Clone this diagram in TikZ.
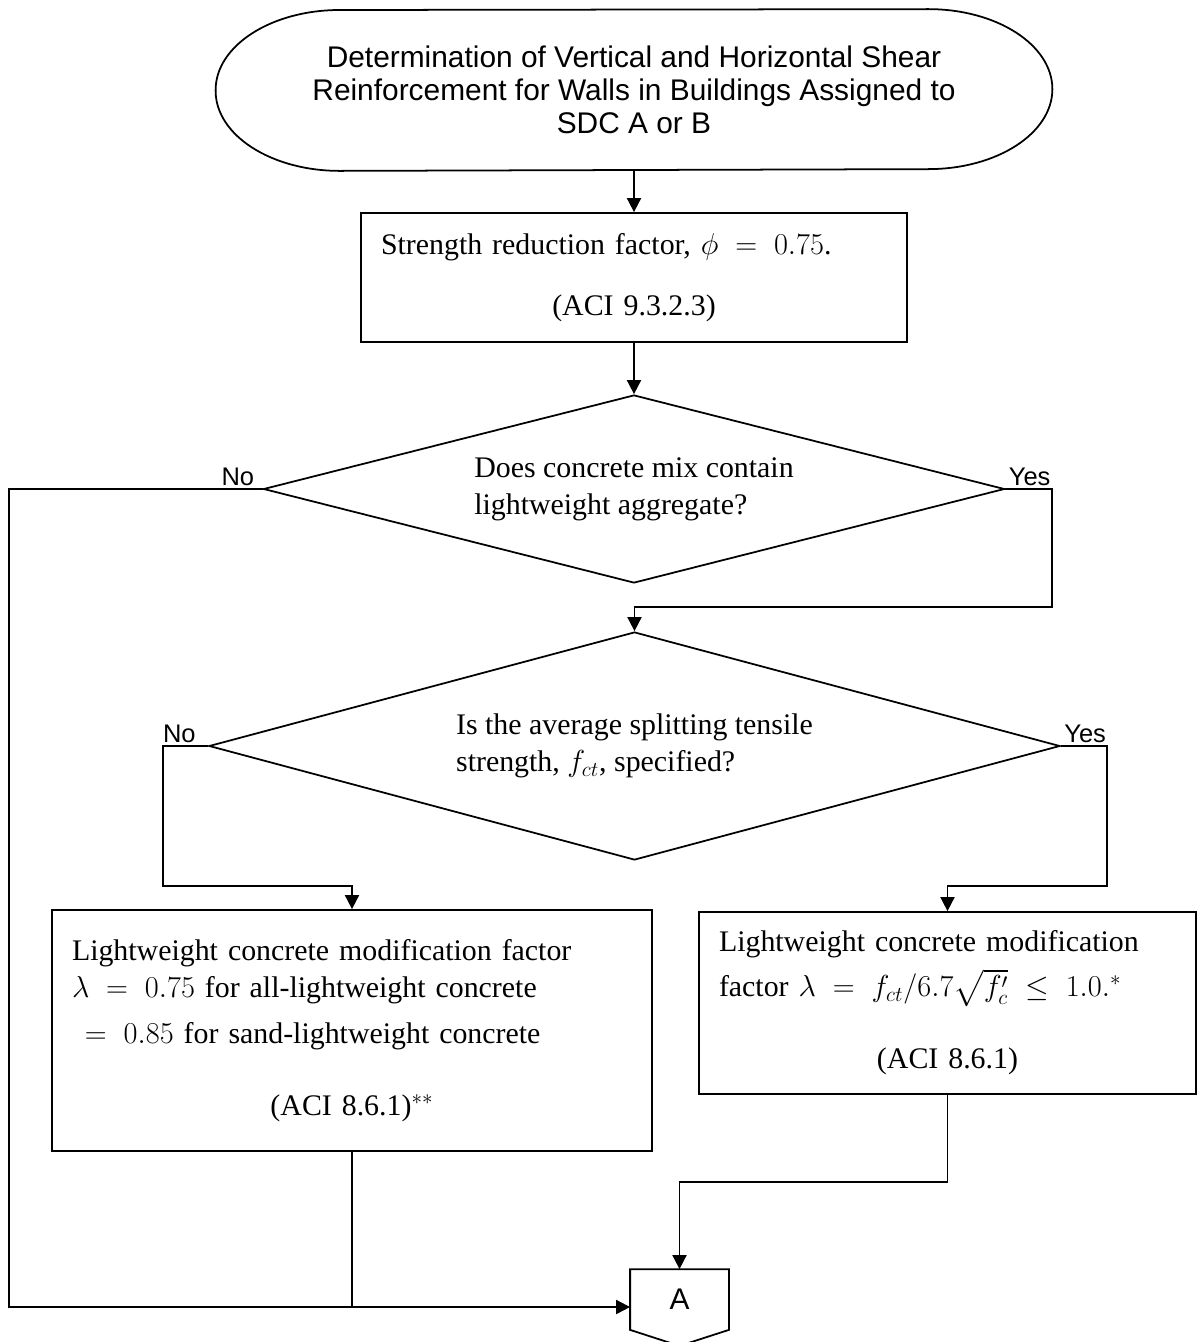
\documentclass[tikz,border=0pt]{standalone}
\usepackage{amsmath}
\usepackage{fontspec}
\setmainfont{Liberation Serif}
\setsansfont{Liberation Sans}
\usetikzlibrary{arrows.meta,shapes.geometric}

\begin{document}
\begin{tikzpicture}[>={Triangle[length=8pt,width=8pt]},line width=1pt,
  term/.style={align=center,minimum width=16.7cm,minimum height=3.2cm,inner sep=0pt,font=\sffamily\fontsize{17}{18.8}\selectfont},
  stepbox/.style={draw,align=left,inner xsep=0.4cm,inner ysep=0pt,font=\fontsize{17}{21}\selectfont},
  decide/.style={diamond,draw,align=left,inner sep=0pt,font=\fontsize{17}{21}\selectfont},
  ans/.style={font=\sffamily\fontsize{14.5}{17}\selectfont,inner sep=1.5pt},
  offpage/.style={minimum width=1.94cm,minimum height=1.18cm,inner sep=0pt,font=\sffamily\fontsize{17}{20}\selectfont}]
\useasboundingbox (0,0) rectangle (23.94,-26.84);
\node[term] (start) at (12.68,-1.8) {Determination of Vertical and Horizontal Shear\\Reinforcement for Walls in Buildings Assigned to\\SDC A or B};
\draw[line join=round] (start.west) arc[start angle=180,end angle=90,x radius=2.48cm,y radius=1.6cm]
  -- ([xshift=-2.48cm]start.north east)
  arc[start angle=90,end angle=-90,x radius=2.48cm,y radius=1.6cm]
  -- ([xshift=2.48cm]start.south west)
  arc[start angle=270,end angle=180,x radius=2.48cm,y radius=1.6cm] -- cycle;
\node[stepbox,text width=10.12cm,minimum height=2.58cm] (phi) at (12.68,-5.55) {\rule{0pt}{0.3cm}Strength reduction factor, $\phi\;=\;0.75$.\\[0.48cm]\makebox[\linewidth]{(ACI 9.3.2.3)}};
\node[decide,aspect=3.94,minimum width=14.82cm,minimum height=3.76cm] (mix) at (12.68,-9.78) {Does concrete mix contain\\lightweight aggregate?};
\node[decide,aspect=3.73,minimum width=17.02cm,minimum height=4.56cm] (fct) at (12.69,-14.92) {Is the average splitting tensile\\strength, $f_{ct}$, specified?};
\node[stepbox,text width=11.2cm,minimum height=4.82cm] (lwall) at (7.04,-20.61) {Lightweight concrete modification factor\\$\lambda\;=\;0.75$ for all-lightweight concrete\\[0.18cm]\hspace*{0.26cm}$=\;0.85$ for sand-lightweight concrete\\[0.7cm]\makebox[\linewidth]{(ACI 8.6.1)$^{**}$}};
\node[stepbox,text width=9.14cm,minimum height=3.64cm] (lwfct) at (18.95,-20.06) {Lightweight concrete modification\\[0.16cm]factor $\lambda\;=\;f_{ct}/6.7\sqrt{f_c'}\;\leq\;1.0.^{*}$\\[0.7cm]\makebox[\linewidth]{(ACI 8.6.1)}};
\node[offpage] (conA) at (13.59,-25.99) {A};
\draw (conA.north west) -- (conA.north east) -- (conA.south east) -- ([yshift=-0.32cm]conA.south) -- (conA.south west) -- cycle;
% yes / no labels
\node[ans,anchor=south east] (no1) at ([xshift=-0.1cm]mix.west) {No};
\node[ans,anchor=south west] (yes1) at (mix.east) {Yes};
\node[ans,anchor=south east] (no2) at ([xshift=-0.18cm]fct.west) {No};
\node[ans,anchor=south west] (yes2) at (fct.east) {Yes};
% bends
\coordinate (j1) at (21.04,-12.14);
\coordinate (j2) at (3.26,-17.72);
\coordinate (j3) at (22.14,-17.72);
\coordinate (j4) at (0.18,-26.14);
\coordinate (j5) at (13.59,-23.64);
\draw[->] (start) -- (phi);
\draw[->] (phi) -- (mix);
\draw[->] (mix.east) -| (j1) -| (fct.north);
\draw[->] (mix.west) -| (j4) -- (j4 -| conA.west);
\draw[->] (fct.west) -| (j2) -| (lwall.north);
\draw[->] (fct.east) -| (j3) -| (lwfct.north);
\draw (lwall.south) -- (lwall.south |- j4);
\draw[->] (lwfct.south) |- (j5) -- (conA.north);
\end{tikzpicture}
\end{document}
